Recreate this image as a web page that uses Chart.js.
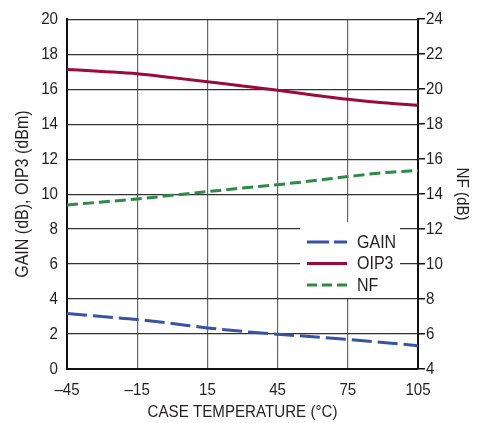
<!DOCTYPE html>
<html>
<head>
<meta charset="utf-8">
<script src="https://cdn.jsdelivr.net/npm/chart.js@4.4.1/dist/chart.umd.min.js"></script>
<style>
    html, body { margin: 0; padding: 0; background: #fff; }
    #wrap { width: 490px; height: 423px; position: relative; }
</style>
</head>
<body>
<div id="wrap"><canvas id="chart" width="490" height="423"></canvas></div>
<script>
const temperatures = [-45, -30, -15, 0, 15, 30, 45, 60, 75, 90, 105];
const gain = [3.17, 3.0, 2.83, 2.6, 2.35, 2.15, 1.99, 1.84, 1.69, 1.52, 1.33];
const oip3 = [17.13, 17.01, 16.88, 16.66, 16.43, 16.18, 15.94, 15.67, 15.42, 15.22, 15.08];
const nf = [13.38, 13.55, 13.72, 13.93, 14.14, 14.35, 14.54, 14.76, 15.0, 15.22, 15.35];

const xTicks = [-45, -15, 15, 45, 75, 105];
const leftTicks = [0, 2, 4, 6, 8, 10, 12, 14, 16, 18, 20];
const rightTicks = [4, 6, 8, 10, 12, 14, 16, 18, 20, 22, 24];

const FONT = "'Liberation Sans', Arial, sans-serif";
const INK = '#231f20';
const SQUEEZE = 0.89; // the datasheet font is a narrow Helvetica

const canvas = document.getElementById('chart');
const ctx = canvas.getContext('2d');

// draw all text a bit narrower, around its own anchor point
const rawFillText = ctx.fillText.bind(ctx);
ctx.fillText = function (text, x, y, maxWidth) {
    this.save();
    this.translate(x, y);
    this.scale(SQUEEZE, 1);
    rawFillText(text, 0, 0);
    this.restore();
};

function points(values) {
    return temperatures.map((t, i) => ({ x: t, y: values[i] }));
}

function fmt(v) {
    return v < 0 ? '\u2013' + Math.abs(v) : String(v);
}

const insideLegend = {
    id: 'insideLegend',
    afterDatasetsDraw(chart) {
        const c = chart.ctx;
        c.save();
        c.fillStyle = '#fff';
        c.fillRect(300, 222, 100, 76);
        chart.data.datasets.forEach((ds, i) => {
            const y = 242 + i * 21.5;
            c.strokeStyle = ds.borderColor;
            c.lineWidth = 3;
            c.setLineDash(ds.legendDash);
            c.beginPath();
            c.moveTo(307, y);
            c.lineTo(347, y);
            c.stroke();
            c.setLineDash([]);
            c.fillStyle = INK;
            c.font = '18px ' + FONT;
            c.textBaseline = 'middle';
            c.textAlign = 'left';
            c.fillText(ds.label, 357, y + 1);
        });
        c.restore();
    },
};

new Chart(canvas, {
    type: 'line',
    data: {
        datasets: [
            {
                label: 'GAIN',
                data: points(gain),
                yAxisID: 'y',
                borderColor: '#3953a4',
                borderWidth: 3,
                borderDash: [20, 6],
                legendDash: [22, 5],
            },
            {
                label: 'OIP3',
                data: points(oip3),
                yAxisID: 'y',
                borderColor: '#9c0a3b',
                borderWidth: 3,
                legendDash: [],
            },
            {
                label: 'NF',
                data: points(nf),
                yAxisID: 'y2',
                borderColor: '#2e8b47',
                borderWidth: 3,
                borderDash: [11, 5],
                legendDash: [10, 5],
            },
        ],
    },
    options: {
        responsive: false,
        animation: false,
        devicePixelRatio: 1,
        layout: { padding: { top: 18, left: 0, right: 0, bottom: 0 } },
        elements: {
            point: { radius: 0 },
            line: { tension: 0.4, cubicInterpolationMode: 'monotone' },
        },
        plugins: {
            legend: { display: false },
            tooltip: { enabled: false },
        },
        scales: {
            x: {
                type: 'linear',
                min: -45,
                max: 105,
                afterBuildTicks: (scale) => {
                    scale.ticks = xTicks.map((v) => ({ value: v }));
                },
                afterFit: (scale) => {
                    scale.height = 54;
                },
                ticks: {
                    color: INK,
                    font: { family: FONT, size: 17 },
                    padding: 11,
                    maxRotation: 0,
                    callback: (v) => fmt(v),
                },
                grid: { color: '#666', lineWidth: 1.2, drawTicks: false },
                border: { color: '#111', width: 2 },
                title: {
                    display: true,
                    text: 'CASE TEMPERATURE (\u00b0C)',
                    color: INK,
                    font: { family: FONT, size: 17 },
                    padding: { top: -2, bottom: 0 },
                },
            },
            y: {
                position: 'left',
                min: 0,
                max: 20,
                afterBuildTicks: (scale) => {
                    scale.ticks = leftTicks.map((v) => ({ value: v }));
                },
                afterFit: (scale) => {
                    scale.width = 67;
                },
                ticks: {
                    color: INK,
                    font: { family: FONT, size: 17 },
                    padding: 9,
                },
                grid: { color: '#333', lineWidth: 1.2, drawTicks: false },
                border: { color: '#111', width: 2 },
                title: {
                    display: true,
                    text: 'GAIN (dB), OIP3 (dBm)',
                    color: INK,
                    font: { family: FONT, size: 18 },
                    padding: { top: 12, bottom: 0 },
                },
            },
            y2: {
                position: 'right',
                min: 4,
                max: 24,
                afterBuildTicks: (scale) => {
                    scale.ticks = rightTicks.map((v) => ({ value: v }));
                },
                afterFit: (scale) => {
                    scale.width = 72;
                },
                ticks: {
                    color: INK,
                    font: { family: FONT, size: 17 },
                    padding: 1,
                },
                grid: {
                    drawOnChartArea: false,
                    drawTicks: true,
                    tickLength: 7,
                    color: '#111',
                    lineWidth: 1.5,
                },
                border: { color: '#111', width: 2 },
                title: {
                    display: true,
                    text: 'NF (dB)',
                    color: INK,
                    font: { family: FONT, size: 17 },
                    padding: { top: 18, bottom: 0 },
                },
            },
        },
    },
    plugins: [insideLegend],
});
</script>
</body>
</html>
